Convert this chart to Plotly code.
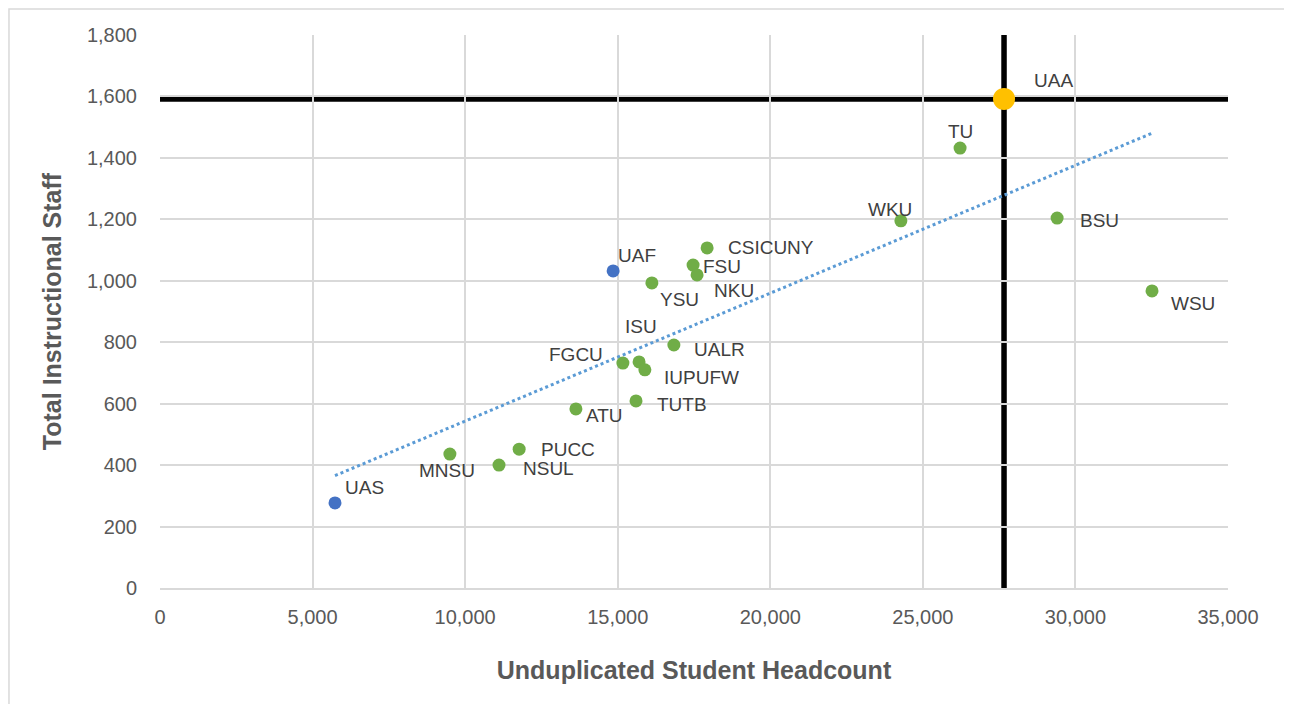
import numpy as np
import plotly.graph_objects as go

# Peer institutions (green)
peer_names = ["TU", "WKU", "BSU", "WSU", "CSICUNY", "FSU", "NKU", "YSU", "UALR", "FGCU",
              "ISU", "IUPUFW", "TUTB", "ATU", "PUCC", "NSUL", "MNSU"]
peer_x = [26220, 24280, 29400, 32510, 17930, 17470, 17600, 16120, 16840, 15170,
          15700, 15890, 15600, 13630, 11770, 11110, 9500]
peer_y = [1432, 1195, 1204, 967, 1107, 1051, 1019, 993, 791, 732,
          736, 710, 609, 583, 452, 400, 436]

# UA system campuses (blue)
ua_names = ["UAF", "UAS"]
ua_x = [14850, 5735]
ua_y = [1032, 277]

# Highlighted campus (gold)
uaa_name = ["UAA"]
uaa_x = [27660]
uaa_y = [1592]

x_ticks = [0, 5000, 10000, 15000, 20000, 25000, 30000, 35000]
y_ticks = [0, 200, 400, 600, 800, 1000, 1200, 1400, 1600, 1800]

# label offsets in pixels (style only)
label_off = {
    "UAA": (49, -18), "TU": (0, -17), "WKU": (-11, -11), "BSU": (42, 2), "WSU": (41, 13),
    "CSICUNY": (64, 0), "FSU": (29, 1), "NKU": (37, 16), "YSU": (28, 17), "UAF": (24, -15),
    "ISU": (2, -35), "UALR": (46, 5), "FGCU": (-47, -9), "IUPUFW": (57, 8), "TUTB": (46, 4),
    "ATU": (29, 7), "PUCC": (49, 0), "NSUL": (49, 3), "MNSU": (-3, 16), "UAS": (29, -15),
}

FONT = "Liberation Sans"
GRAY = "#595959"

fig = go.Figure()

# linear trendline through all plotted points
all_x = np.array(peer_x + ua_x + uaa_x, dtype=float)
all_y = np.array(peer_y + ua_y + uaa_y, dtype=float)
m, b = np.polyfit(all_x, all_y, 1)
tx = np.array([all_x.min(), all_x.max()])
fig.add_trace(go.Scatter(x=tx, y=m * tx + b, mode="lines",
                         line=dict(color="#5b9bd5", width=3, dash="dot"),
                         hoverinfo="skip", showlegend=False))

fig.add_trace(go.Scatter(x=peer_x, y=peer_y, mode="markers",
                         marker=dict(color="#70ad47", size=13), showlegend=False))
fig.add_trace(go.Scatter(x=ua_x, y=ua_y, mode="markers",
                         marker=dict(color="#4472c4", size=13), showlegend=False))

# reference lines through UAA (between gridlines and traces)
fig.add_shape(type="line", xref="paper", yref="y", x0=0, x1=1, y0=uaa_y[0], y1=uaa_y[0],
              line=dict(color="black", width=5.5), layer="between")
fig.add_shape(type="line", xref="x", yref="paper", x0=uaa_x[0], x1=uaa_x[0], y0=0, y1=1,
              line=dict(color="black", width=5.5), layer="between")

fig.add_trace(go.Scatter(x=uaa_x, y=uaa_y, mode="markers",
                         marker=dict(color="#ffc000", size=22), showlegend=False))

for names, xs, ys in [(peer_names, peer_x, peer_y), (ua_names, ua_x, ua_y), (uaa_name, uaa_x, uaa_y)]:
    for n, xv, yv in zip(names, xs, ys):
        dx, dy = label_off[n]
        fig.add_annotation(x=xv, y=yv, text=n, showarrow=True, arrowcolor="rgba(0,0,0,0)",
                           ax=dx, ay=dy, axref="pixel", ayref="pixel",
                           font=dict(family=FONT, size=19, color="#404040"))

# outer chart frame
fig.add_shape(type="rect", xref="paper", yref="paper", x0=-0.1414, x1=1.058, y0=-0.4, y1=1.047,
              line=dict(color="#d9d9d9", width=1.5), layer="below")

fig.update_layout(
    width=1292, height=704,
    margin=dict(l=152, r=72, t=27, b=124),
    paper_bgcolor="white", plot_bgcolor="white",
    font=dict(family=FONT, color=GRAY),
    xaxis=dict(range=[0, 35000], tickvals=x_ticks, tickformat=",d",
               showgrid=True, gridcolor="#d9d9d9", gridwidth=2, zeroline=False,
               showline=True, linecolor="#d9d9d9", linewidth=2,
               tickfont=dict(size=20, color=GRAY), ticks="", ticklabelstandoff=10,
               title=dict(text="<b>Unduplicated Student Headcount</b>",
                          font=dict(size=25, color=GRAY), standoff=34)),
    yaxis=dict(range=[0, 1800], tickvals=y_ticks, tickformat=",d",
               showgrid=True, gridcolor="#d9d9d9", gridwidth=2, zeroline=False,
               showline=False,
               tickfont=dict(size=20, color=GRAY), ticks="", ticklabelstandoff=22,
               title=dict(text="<b>Total Instructional Staff</b>",
                          font=dict(size=25, color=GRAY), standoff=18)),
)

fig.write_html("out.html")
